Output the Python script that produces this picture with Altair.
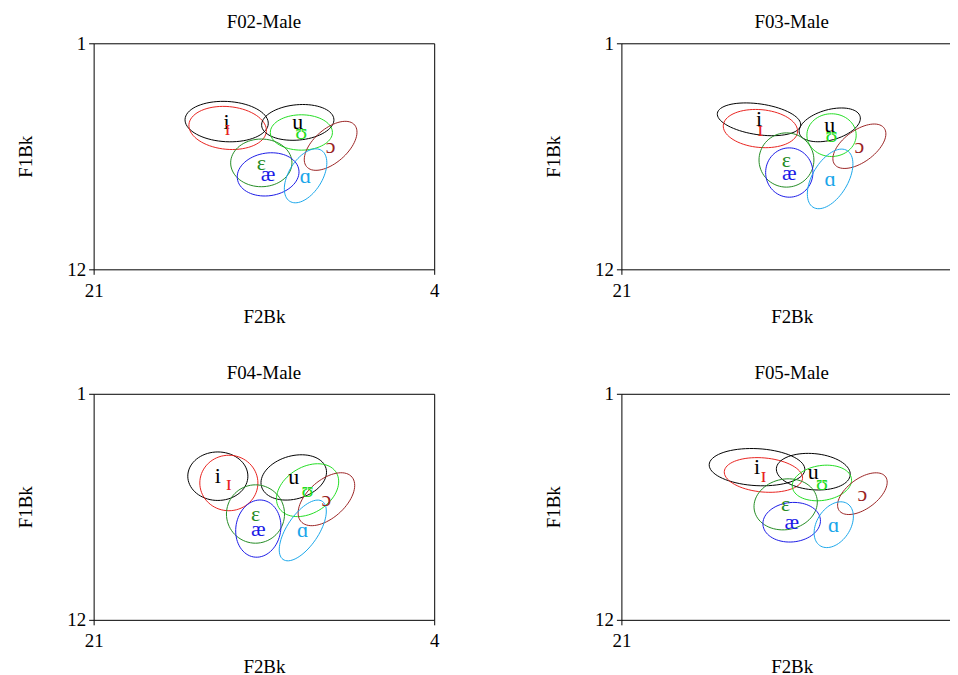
import math
import altair as alt
import pandas as pd

speakers = ["F02-Male", "F03-Male", "F04-Male", "F05-Male"]
vowels = ["i", "ɪ", "u", "ʊ", "ɔ", "ɛ", "æ", "ɑ"]
vowel_colors = ["#000000", "#e8231f", "#000000", "#22dd22", "#9a2424", "#238b23", "#1a1ae6", "#1aa6ea"]

x_ticks = [21, 4]
y_ticks = [1, 12]

# mean F2 (Bark) per speaker, in vowel order
f2_mean = {
    "F02-Male": [14.36, 14.31, 10.81, 10.63, 9.17, 12.63, 12.29, 10.42],
    "F03-Male": [14.13, 14.06, 10.60, 10.51, 9.12, 12.76, 12.62, 10.58],
    "F04-Male": [14.80, 14.25, 11.01, 10.32, 9.38, 12.92, 12.78, 10.56],
    "F05-Male": [14.23, 13.91, 11.42, 10.99, 8.97, 12.80, 12.50, 10.40],
}
# mean F1 (Bark)
f1_mean = {
    "F02-Male": [4.81, 5.12, 4.85, 5.34, 5.99, 6.82, 7.38, 7.45],
    "F03-Male": [4.70, 5.15, 4.97, 5.47, 6.01, 6.68, 7.29, 7.60],
    "F04-Male": [5.01, 5.34, 5.07, 5.69, 6.13, 6.85, 7.56, 7.65],
    "F05-Male": [4.57, 4.95, 4.79, 5.34, 5.86, 6.38, 7.25, 7.37],
}
# ellipse semi-axes (Bark) and tilt (degrees)
semi_major = {
    "F02-Male": [2.08, 1.94, 1.81, 1.55, 1.57, 1.53, 1.55, 1.47],
    "F03-Male": [2.10, 1.86, 1.57, 1.23, 1.52, 1.37, 1.18, 1.62],
    "F04-Male": [1.50, 1.45, 1.67, 1.67, 1.67, 1.45, 1.40, 1.72],
    "F05-Male": [2.39, 1.96, 1.85, 1.49, 1.42, 1.59, 1.44, 1.23],
}
semi_minor = {
    "F02-Male": [0.98, 1.04, 0.86, 0.86, 0.83, 1.16, 1.04, 0.83],
    "F03-Male": [0.75, 0.92, 0.74, 1.04, 0.78, 1.32, 1.20, 0.88],
    "F04-Male": [1.18, 1.35, 1.05, 1.13, 0.93, 1.42, 1.12, 0.78],
    "F05-Male": [0.90, 0.83, 0.88, 0.85, 0.74, 1.23, 0.96, 0.83],
}
tilt_deg = {
    "F02-Male": [-3, -5, 5, 0, 40, 0, 8, 57],
    "F03-Male": [-8, -5, 15, 0, 35, 0, 0, 58],
    "F04-Male": [0, 0, 15, 30, 40, 0, 80, 55],
    "F05-Male": [-3, -5, -5, 8, 35, 10, 5, 55],
}

ell_rows, lab_rows = [], []
for sp in speakers:
    for j, v in enumerate(vowels):
        cx, cy = f2_mean[sp][j], f1_mean[sp][j]
        a, b = semi_major[sp][j], semi_minor[sp][j]
        th = math.radians(tilt_deg[sp][j])
        lab_rows.append({"speaker": sp, "vowel": v, "F2": cx, "F1": cy, "o": j})
        for k in range(73):
            t = 2 * math.pi * k / 72
            u, w = a * math.cos(t), b * math.sin(t)
            dx = u * math.cos(th) - w * math.sin(th)
            dy = u * math.sin(th) + w * math.cos(th)
            ell_rows.append({"speaker": sp, "vowel": v, "k": k, "F2": cx - dx, "F1": cy - dy})

ell_df = pd.DataFrame(ell_rows)
lab_df = pd.DataFrame(lab_rows)
title_df = pd.DataFrame({"speaker": speakers})

FONT = "Liberation Serif, DejaVu Serif, serif"
PW, PH = 342, 227
color_scale = alt.Scale(domain=vowels, range=vowel_colors)
xscale = alt.Scale(domain=[4, 21], reverse=True, nice=False, zero=False)
yscale = alt.Scale(domain=[1, 12], reverse=True, nice=False, zero=False)
xaxis = alt.Axis(values=x_ticks, title="F2Bk", labelFlush=False, labelPadding=7, titlePadding=7)
yaxis = alt.Axis(values=y_ticks, title="F1Bk", labelPadding=3, titlePadding=31)


def panel(sp):
    ell = alt.Chart(ell_df[ell_df.speaker == sp]).mark_line(strokeWidth=1, clip=True).encode(
        x=alt.X("F2:Q", scale=xscale, axis=xaxis),
        y=alt.Y("F1:Q", scale=yscale, axis=yaxis),
        color=alt.Color("vowel:N", scale=color_scale, legend=None),
        detail="vowel:N",
        order="k:Q",
    )
    txt = alt.Chart(lab_df[lab_df.speaker == sp]).mark_text(
        font=FONT, fontSize=22, align="center", baseline="middle"
    ).encode(
        x=alt.X("F2:Q", scale=xscale, axis=xaxis),
        y=alt.Y("F1:Q", scale=yscale, axis=yaxis),
        color=alt.Color("vowel:N", scale=color_scale, legend=None),
        text="vowel:N",
        order="o:Q",
    )
    ttl = alt.Chart(title_df[title_df.speaker == sp]).mark_text(
        font=FONT, fontSize=19, align="center", baseline="alphabetic", color="black"
    ).encode(
        text="speaker:N",
        x=alt.value(PW / 2),
        y=alt.value(-15),
    )
    return alt.layer(ell, txt, ttl).properties(width=PW, height=PH)


chart = alt.vconcat(
    alt.hconcat(panel(speakers[0]), panel(speakers[1]), spacing=104),
    alt.hconcat(panel(speakers[2]), panel(speakers[3]), spacing=104),
    spacing=36,
).properties(
    padding={"left": 8, "top": 3, "right": -18, "bottom": 5}
).configure_view(stroke="black", strokeWidth=1).configure_axis(
    grid=False, domain=False, tickSize=5, tickColor="black",
    labelFont=FONT, labelFontSize=19, labelColor="black",
    titleFont=FONT, titleFontSize=19, titleFontWeight="normal", titleColor="black",
)

chart.save("out.html", embed_options={"renderer": "svg", "actions": False})
